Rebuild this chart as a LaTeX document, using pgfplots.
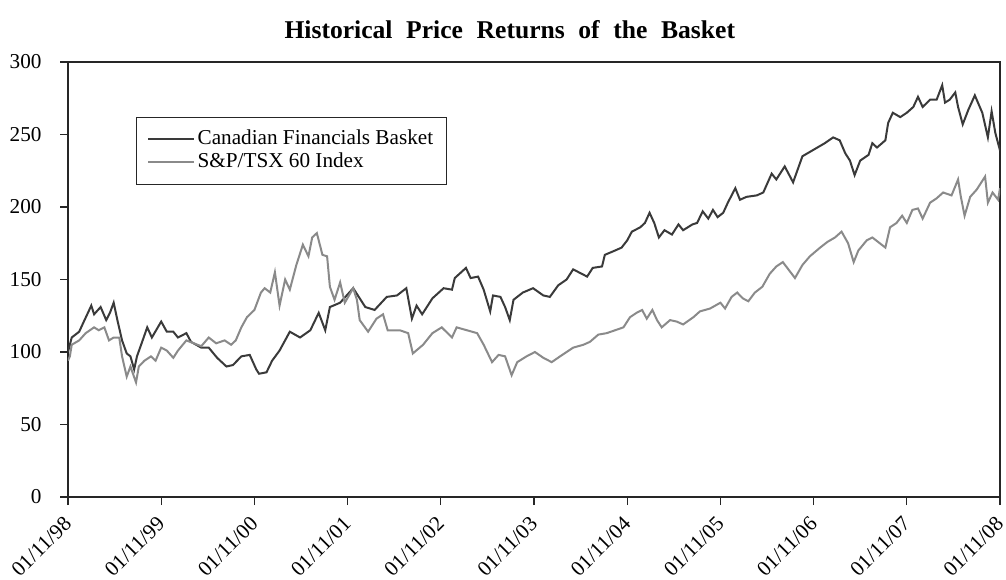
\documentclass[border=0pt]{standalone}
\usepackage{pgfplots}
\pgfplotsset{compat=1.18}
\usepackage{fontspec}
\setmainfont{Liberation Serif}
\definecolor{dk}{RGB}{58,58,58}
\definecolor{gr}{RGB}{138,138,138}
\begin{document}
\fontsize{10.6}{12.7}\selectfont
\begin{tikzpicture}
\begin{axis}[name=ax, scale only axis, width=466pt, height=217.5pt,
  xmin=0, xmax=10, ymin=0, ymax=300,
  xtick={0,1,2,3,4,5,6,7,8,9,10},
  xticklabels={01/11/98,01/11/99,01/11/00,01/11/01,01/11/02,01/11/03,01/11/04,01/11/05,01/11/06,01/11/07,01/11/08},
  ytick={0,50,100,150,200,250,300},
  tick align=outside, tick pos=left, major tick length=4pt,
  axis line style={line width=0.6pt, color=black!85},
  tick style={line width=0.6pt, color=black!85},
  /pgf/number format/assume math mode=true,
  tick label style={font=\fontsize{10.6}{12}\selectfont},
  xticklabel style={xshift=2.5pt, yshift=-5pt, rotate=45, anchor=east},
  yticklabel style={xshift=-5.5pt},
  title={Historical\hspace{6.8pt}Price\hspace{6.8pt}Returns\hspace{6.8pt}of\hspace{6.8pt}the\hspace{6.8pt}Basket},
  title style={font=\bfseries\fontsize{12.8}{14}\selectfont, at={(0.474,1)}, anchor=base, yshift=6pt},
  legend style={at={(0.073,0.874)}, anchor=north west, draw=black!85, line width=0.6pt,
    inner xsep=5.25pt, inner ysep=5.25pt, row sep=0pt,
    nodes={inner xsep=1.25pt, inner ysep=0.75pt, text height=7.5pt, text depth=2.5pt},
    font=\fontsize{10.6}{12.7}\selectfont},
  legend cell align=left,
  legend image code/.code={\draw[#1] (0pt,0pt) -- (23pt,0pt);},
]
\addplot[dk, line width=1pt] coordinates {
(0,100) (0.04,110) (0.12,114) (0.17,121) (0.25,132) (0.28,126) (0.35,131) (0.41,122)
(0.45,127) (0.49,134) (0.53,122) (0.58,108) (0.63,99) (0.67,97) (0.71,88) (0.74,97)
(0.79,106) (0.85,117) (0.9,110) (1.0,121) (1.06,114) (1.13,114) (1.18,110) (1.27,113)
(1.32,107) (1.43,103) (1.51,103) (1.6,96) (1.7,90) (1.77,91) (1.86,97) (1.95,98)
(2.02,88) (2.05,85) (2.13,86) (2.19,94) (2.27,101) (2.38,114) (2.49,110) (2.6,115)
(2.69,127) (2.76,115) (2.81,131) (2.92,134) (3.06,144) (3.13,137) (3.19,131) (3.29,129)
(3.42,138) (3.53,139) (3.63,144) (3.69,123) (3.74,132) (3.8,126) (3.91,137) (4.03,144)
(4.12,143) (4.15,151) (4.27,158) (4.32,151) (4.4,152) (4.46,143) (4.53,128) (4.56,139)
(4.64,138) (4.69,131) (4.74,122) (4.78,136) (4.88,141) (4.99,144) (5.1,139) (5.17,138)
(5.26,146) (5.35,150) (5.42,157) (5.51,154) (5.57,152) (5.63,158) (5.73,159) (5.76,167)
(5.87,170) (5.94,172) (6.0,177) (6.05,183) (6.14,186) (6.19,189) (6.24,196) (6.29,189)
(6.34,179) (6.4,184) (6.48,181) (6.55,188) (6.6,184) (6.7,188) (6.75,189) (6.81,197)
(6.87,192) (6.92,198) (6.97,193) (7.03,196) (7.08,203) (7.16,213) (7.21,205) (7.28,207)
(7.39,208) (7.46,210) (7.55,223) (7.6,219) (7.69,228) (7.78,217) (7.88,235) (7.96,238)
(8.04,241) (8.12,244) (8.21,248) (8.28,246) (8.34,237) (8.39,232) (8.44,222) (8.5,232)
(8.59,236) (8.63,244) (8.68,241) (8.77,246) (8.8,258) (8.85,265) (8.93,262) (9.0,265)
(9.07,269) (9.12,276) (9.17,269) (9.25,274) (9.32,274) (9.38,284) (9.41,272) (9.46,274)
(9.52,279) (9.55,269) (9.6,257) (9.66,267) (9.73,277) (9.81,265) (9.87,248) (9.91,266)
(9.95,251) (10.0,239)
};
\addlegendentry{Canadian Financials Basket}
\addplot[gr, line width=1pt] coordinates {
(0,94) (0.02,97) (0.04,105) (0.12,108) (0.19,113) (0.28,117) (0.33,115) (0.39,117)
(0.44,108) (0.49,110) (0.55,110) (0.58,97) (0.63,83) (0.67,90) (0.73,79) (0.76,90)
(0.82,94) (0.89,97) (0.94,94) (1.0,103) (1.06,101) (1.13,96) (1.18,101) (1.27,108)
(1.35,106) (1.43,104) (1.51,110) (1.59,106) (1.68,108) (1.75,105) (1.8,108) (1.86,117)
(1.92,124) (2.0,129) (2.07,141) (2.11,144) (2.17,141) (2.22,155) (2.27,132) (2.33,150)
(2.38,143) (2.45,160) (2.52,174) (2.58,166) (2.62,179) (2.67,182) (2.73,167) (2.78,166)
(2.81,145) (2.86,136) (2.92,148) (2.97,134) (3.06,144) (3.1,136) (3.13,122) (3.22,114)
(3.31,123) (3.38,126) (3.43,115) (3.56,115) (3.65,113) (3.7,99) (3.81,105) (3.91,113)
(4.01,117) (4.12,110) (4.17,117) (4.28,115) (4.39,113) (4.46,105) (4.55,93) (4.62,98)
(4.69,97) (4.76,84) (4.82,93) (4.92,97) (5.01,100) (5.1,96) (5.19,93) (5.28,97)
(5.42,103) (5.53,105) (5.6,107) (5.69,112) (5.78,113) (5.87,115) (5.96,117) (6.03,124)
(6.1,127) (6.16,129) (6.21,123) (6.27,129) (6.32,122) (6.37,117) (6.46,122) (6.53,121)
(6.6,119) (6.71,124) (6.78,128) (6.89,130) (7.0,134) (7.05,130) (7.12,138) (7.18,141)
(7.24,137) (7.3,135) (7.37,141) (7.45,145) (7.53,154) (7.6,159) (7.67,162) (7.8,151)
(7.88,160) (7.96,166) (8.07,172) (8.15,176) (8.23,179) (8.3,183) (8.37,175) (8.43,162)
(8.48,170) (8.57,177) (8.63,179) (8.77,172) (8.82,186) (8.89,189) (8.95,194) (9.0,189)
(9.06,198) (9.12,199) (9.17,192) (9.25,203) (9.32,206) (9.39,210) (9.48,208) (9.55,219)
(9.58,207) (9.62,194) (9.68,207) (9.75,212) (9.84,221) (9.87,203) (9.92,210) (9.98,205)
(10.0,213)
};
\addlegendentry{S\&P/TSX 60 Index}
\end{axis}
\pgfresetboundingbox
\path[use as bounding box] ([xshift=-34pt,yshift=-41pt]ax.south west) rectangle ([xshift=3pt,yshift=31pt]ax.north east);
\end{tikzpicture}
\end{document}
